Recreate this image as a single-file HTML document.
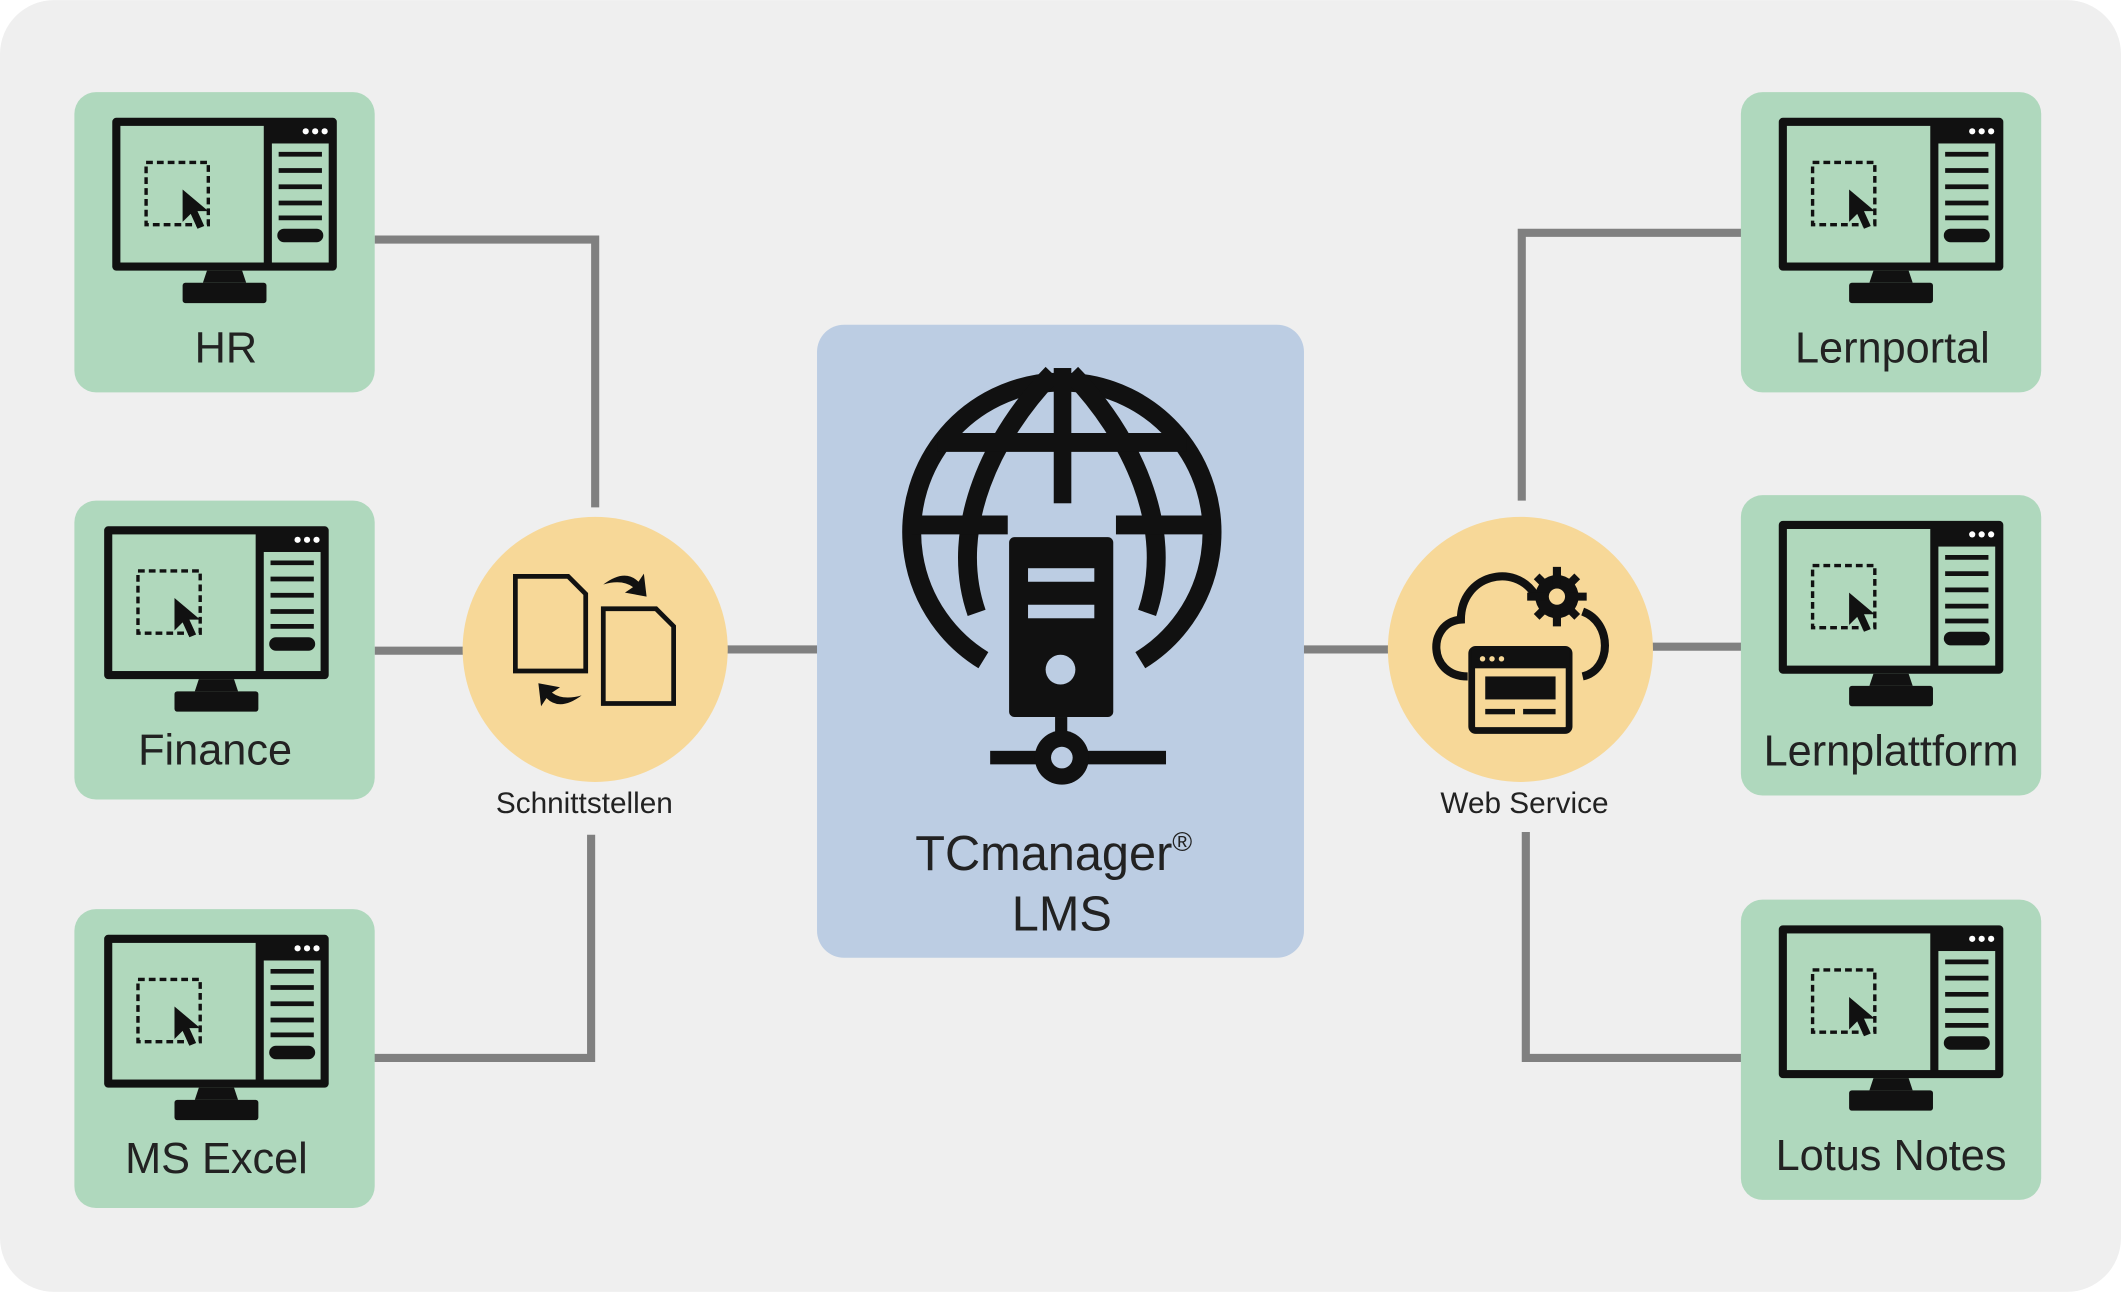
<!DOCTYPE html>
<html><head><meta charset="utf-8"><style>
html,body{margin:0;padding:0;background:#fff;}
svg{display:block;}
text{font-family:"Liberation Sans",sans-serif;fill:#222;}
</style></head><body>
<svg width="2121" height="1292" viewBox="0 0 1568 955" xmlns="http://www.w3.org/2000/svg">
<defs>
<g id="mon">
  <rect x="28" y="19" width="166" height="113" rx="3" fill="#111"/>
  <rect x="34" y="25" width="106" height="101" fill="#b0d8bc"/>
  <rect x="146" y="38" width="42" height="88" fill="#b0d8bc"/>
  <circle cx="171" cy="29" r="2.3" fill="#fff"/><circle cx="178" cy="29" r="2.3" fill="#fff"/><circle cx="185" cy="29" r="2.3" fill="#fff"/>
  <g stroke="#111" stroke-width="3.5">
    <line x1="151" y1="46" x2="183" y2="46"/><line x1="151" y1="58" x2="183" y2="58"/><line x1="151" y1="70" x2="183" y2="70"/><line x1="151" y1="82" x2="183" y2="82"/><line x1="151" y1="93" x2="183" y2="93"/>
  </g>
  <rect x="150" y="101" width="34" height="10" rx="5" fill="#111"/>
  <rect x="53" y="52" width="46" height="46" fill="none" stroke="#111" stroke-width="2.5" stroke-dasharray="5 3"/>
  <path d="M80 72 L80 96 L86 90 L91 101 L96 99 L91 88 L99 88 Z" fill="#111"/>
  <path d="M98 132 L124 132 L127 141 L95 141 Z" fill="#111"/>
  <rect x="80" y="141" width="62" height="15" rx="2" fill="#111"/>
</g>
</defs>
<rect x="0" y="0" width="1568" height="955" rx="40" fill="#efefef"/>
<g stroke="#808080" stroke-width="6" fill="none">
  <polyline points="277,177 440,177 440,375"/>
  <line x1="277" y1="481" x2="345" y2="481"/>
  <polyline points="273,782 437,782 437,617"/>
  <line x1="536" y1="480" x2="606" y2="480"/>
  <line x1="962" y1="480" x2="1028" y2="480"/>
  <polyline points="1125,370 1125,172 1289,172"/>
  <line x1="1220" y1="478" x2="1289" y2="478"/>
  <polyline points="1128,615 1128,782 1289,782"/>
</g>
<g fill="#afd8bd">
  <rect x="55" y="68" width="222" height="222" rx="16"/>
  <rect x="55" y="370" width="222" height="221" rx="16"/>
  <rect x="55" y="672" width="222" height="221" rx="16"/>
  <rect x="1287" y="68" width="222" height="222" rx="16"/>
  <rect x="1287" y="366" width="222" height="222" rx="16"/>
  <rect x="1287" y="665" width="222" height="222" rx="16"/>
</g>
<use href="#mon" x="55" y="68"/>
<use href="#mon" x="49" y="370"/>
<use href="#mon" x="49" y="672"/>
<use href="#mon" x="1287" y="68"/>
<use href="#mon" x="1287" y="366"/>
<use href="#mon" x="1287" y="665"/>
<g font-size="32" text-anchor="middle">
  <text x="167" y="268">HR</text>
  <text x="159" y="565">Finance</text>
  <text x="160" y="867">MS Excel</text>
  <text x="1399" y="268">Lernportal</text>
  <text x="1398" y="566">Lernplattform</text>
  <text x="1398" y="865">Lotus Notes</text>
</g>
<rect x="604" y="240" width="360" height="468" rx="20" fill="#bccde3"/>
<g fill="none" stroke="#111" stroke-width="14">
  <path d="M727 488 A111 111 0 1 1 843 488"/>
  <path d="M778 276 C735 320 700 390 722 453"/>
  <path d="M792 276 C835 320 870 390 848 453"/>
  <line x1="693" y1="327" x2="877" y2="327"/>
  <line x1="674" y1="388" x2="745" y2="388"/>
  <line x1="825" y1="388" x2="896" y2="388"/>
</g>
<rect x="779" y="272" width="13" height="100" fill="#111"/>
<rect x="746" y="397" width="77" height="133" rx="4" fill="#111"/>
<rect x="760" y="420" width="49" height="10" fill="#bccde3"/>
<rect x="760" y="447" width="49" height="10" fill="#bccde3"/>
<circle cx="784" cy="495" r="11" fill="#bccde3"/>
<rect x="780" y="530" width="9" height="22" fill="#111"/>
<rect x="732" y="555" width="130" height="10" fill="#111"/>
<circle cx="785" cy="560" r="20" fill="#111"/>
<circle cx="785" cy="560" r="8" fill="#bccde3"/>
<text x="779" y="643" font-size="36" text-anchor="middle">TCmanager<tspan font-size="20" dy="-14">®</tspan></text>
<text x="785" y="688" font-size="36" text-anchor="middle">LMS</text>
<circle cx="440" cy="480" r="98" fill="#f7d898"/>
<circle cx="1124" cy="480" r="98" fill="#f7d898"/>
<g fill="none" stroke="#111" stroke-width="3.5">
  <path d="M381 426 L420 426 L433 439 L433 496 L381 496 Z"/>
  <path d="M446 450 L485 450 L498 463 L498 520 L446 520 Z"/>
</g>
<path d="M446 432 Q462 420 472 430 L476 424 L478 441 L462 438 L468 434 Q460 428 446 432 Z" fill="#111"/>
<path d="M430 514 Q414 526 404 516 L400 522 L398 505 L414 508 L408 512 Q416 518 430 514 Z" fill="#111"/>
<text x="432" y="601" font-size="22" text-anchor="middle">Schnittstellen</text>
<g fill="none" stroke="#111" stroke-width="6">
  <path d="M1085 500 C1055 500 1055 460 1080 458 C1080 425 1120 415 1135 440 M1170 452 C1192 460 1192 495 1170 500"/>
</g>
<circle cx="1151" cy="441" r="16" fill="#111"/>
<g stroke="#111" stroke-width="6"><line x1="1151" y1="419" x2="1151" y2="463"/><line x1="1129" y1="441" x2="1173" y2="441"/><line x1="1136" y1="426" x2="1166" y2="456"/><line x1="1166" y1="426" x2="1136" y2="456"/></g>
<circle cx="1151" cy="441" r="6" fill="#f7d898"/>
<rect x="1088" y="480" width="72" height="60" rx="3" fill="#f7d898" stroke="#111" stroke-width="5"/>
<rect x="1088" y="480" width="72" height="14" fill="#111"/>
<rect x="1098" y="500" width="52" height="17" fill="#111"/>
<rect x="1098" y="524" width="22" height="4" fill="#111"/><rect x="1126" y="524" width="24" height="4" fill="#111"/>
<circle cx="1096" cy="487" r="2" fill="#f7d898"/><circle cx="1103" cy="487" r="2" fill="#f7d898"/><circle cx="1110" cy="487" r="2" fill="#f7d898"/>
<text x="1127" y="601" font-size="22" text-anchor="middle">Web Service</text>
</svg>
</body></html>
